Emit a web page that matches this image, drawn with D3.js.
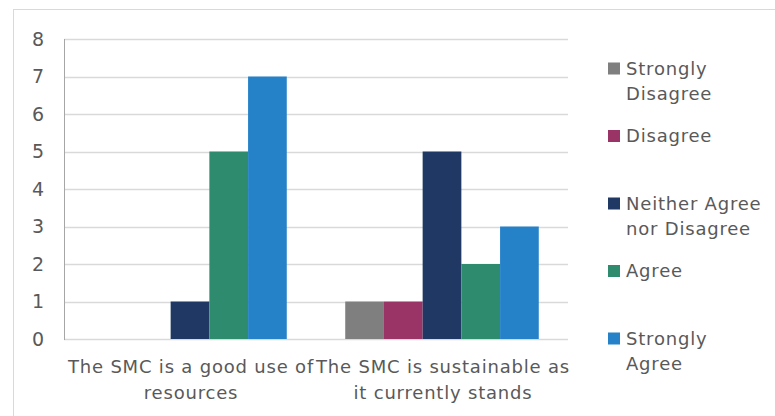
<!DOCTYPE html>
<meta charset="utf-8">
<head>
  <title>SMC survey</title>
  <style>
    body { margin: 0; background: #fff; }
    text { font-family: "DejaVu Sans", sans-serif; fill: #595959; }
  </style>
</head>
<body>
<script src="https://cdn.jsdelivr.net/npm/d3@7"></script>
<div id="chart"></div>
<script>

// data
var statements = ["The SMC is a good use of resources", "The SMC is sustainable as it currently stands"];
var statementLines = [["The SMC is a good use of", "resources"], ["The SMC is sustainable as", "it currently stands"]];
var responses = ["Strongly Disagree", "Disagree", "Neither Agree nor Disagree", "Agree", "Strongly Agree"];
var legendLines = [["Strongly", "Disagree"], ["Disagree"], ["Neither Agree", "nor Disagree"], ["Agree"], ["Strongly", "Agree"]];
var goodUse = [0, 0, 1, 5, 7];
var sustainable = [1, 1, 5, 2, 3];
var yTicks = [0, 1, 2, 3, 4, 5, 6, 7, 8];
var colours = ["#7f7f7f", "#9a3366", "#1f3864", "#2e8b6e", "#2682c8"];

var counts = [goodUse, sustainable];

var width = 775, height = 416;
var plot = {left: 64, right: 568, top: 39, bottom: 339};

var svg = d3.select("#chart").append("svg")
    .attr("width", width)
    .attr("height", height);

// outer frame
svg.append("rect")
    .attr("x", 13.5).attr("y", 9.5)
    .attr("width", width).attr("height", height)
    .attr("fill", "none")
    .attr("stroke", "#d9d9d9");

var x0 = d3.scaleBand()
    .domain(statements)
    .range([plot.left, plot.right])
    .paddingInner(0.232)
    .paddingOuter(0.116);

var x1 = d3.scaleBand()
    .domain(responses)
    .range([0, x0.bandwidth()]);

var y = d3.scaleLinear()
    .domain([0, 8])
    .range([plot.bottom, plot.top]);

var colour = d3.scaleOrdinal().domain(responses).range(colours);

// gridlines
svg.append("g").selectAll("line")
  .data(yTicks)
  .enter().append("line")
    .attr("x1", plot.left).attr("x2", plot.right)
    .attr("y1", function(d) { return Math.round(y(d)) + 0.5; })
    .attr("y2", function(d) { return Math.round(y(d)) + 0.5; })
    .attr("stroke", "#d9d9d9")
    .attr("stroke-width", 1.5);

// y axis labels
svg.append("g").selectAll("text")
  .data(yTicks)
  .enter().append("text")
    .attr("x", 38)
    .attr("y", function(d) { return y(d); })
    .attr("dy", "0.36em")
    .attr("text-anchor", "middle")
    .style("font-size", "19px")
    .text(function(d) { return d; });

// bars
var groups = svg.append("g").selectAll("g")
  .data(statements)
  .enter().append("g")
    .attr("transform", function(d) { return "translate(" + x0(d) + ",0)"; });

groups.selectAll("rect")
  .data(function(d, i) { return responses.map(function(r, j) { return {key: r, value: counts[i][j]}; }); })
  .enter().append("rect")
    .filter(function(d) { return d.value > 0; })
    .attr("x", function(d) { return x1(d.key); })
    .attr("y", function(d) { return y(d.value); })
    .attr("width", x1.bandwidth())
    .attr("height", function(d) { return y(0) - y(d.value); })
    .attr("fill", function(d) { return colour(d.key); });

// y axis line
svg.append("line")
    .attr("x1", plot.left + 0.5).attr("x2", plot.left + 0.5)
    .attr("y1", plot.top).attr("y2", plot.bottom + 1)
    .attr("stroke", "#a6a6a6");

// category labels
statements.forEach(function(s, i) {
  var t = svg.append("text")
      .attr("text-anchor", "middle")
      .style("font-size", "18px")
      .style("letter-spacing", "0.8px");
  statementLines[i].forEach(function(line, k) {
    t.append("tspan")
        .attr("x", x0(s) + x0.bandwidth() / 2 + 1)
        .attr("y", 373 + k * 26)
        .text(line);
  });
});

// legend
var legend = svg.append("g").selectAll("g")
  .data(responses)
  .enter().append("g")
    .attr("transform", function(d, i) { return "translate(608," + (68.5 + i * 67.5) + ")"; });

legend.append("rect")
    .attr("x", 0).attr("y", -6)
    .attr("width", 12).attr("height", 12)
    .attr("fill", function(d) { return colour(d); });

legend.append("text")
    .style("font-size", "18px")
    .style("letter-spacing", "0.8px")
    .each(function(d, i) {
      var t = d3.select(this);
      legendLines[i].forEach(function(line, k) {
        t.append("tspan")
            .attr("x", 18)
            .attr("y", k * 25.5)
            .attr("dy", "0.35em")
            .text(line);
      });
    });

</script>
</body>
